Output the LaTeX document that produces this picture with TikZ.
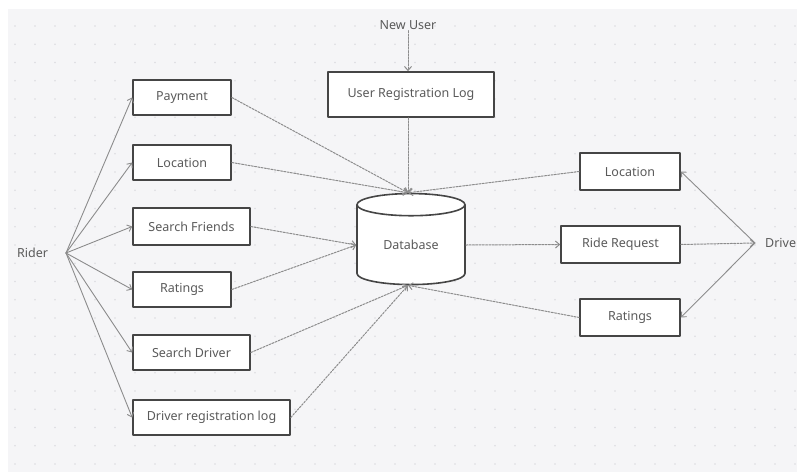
\documentclass[tikz,border=0pt]{standalone}
\usepackage{fontspec}
\setmainfont{Noto Sans}
\usetikzlibrary{arrows.meta,shapes.geometric}
\definecolor{panel}{HTML}{F5F5F7}
\definecolor{griddot}{HTML}{DCDCE0}
\definecolor{boxline}{HTML}{454545}
\definecolor{txt}{HTML}{5A5A5A}
\definecolor{flow}{HTML}{8C8C8C}
\begin{document}
\begin{tikzpicture}[x=1pt, y=-1pt, line cap=round, line join=round, font=\fontsize{12.5}{14}\selectfont, >={Straight Barb[length=4pt,width=7pt]}]
	\tikzset{box/.style={draw=boxline, line width=1.6pt, fill=white, text=txt, inner sep=0pt},
		link/.style={->, draw=flow, line width=1pt, dash pattern=on 2pt off 1.3pt},
		feed/.style={->, draw=flow, line width=0.9pt},
		label style/.style={text=txt, inner sep=1pt}}
	\useasboundingbox (0,0) rectangle (797,472);
	\fill[white] (0,0) rectangle (797,472);
	\fill[panel] (8,9) rectangle (797,472);
	\foreach \i in {0,...,39} \foreach \j in {0,...,24}
		\fill[griddot] (15+20*\i, 26+18.25*\j) circle (0.9pt);
	% boxes
	\node[box, minimum width=166pt, minimum height=45pt] (userlog) at (411,94.5) {User Registration Log};
	\node[box, minimum width=98pt, minimum height=35pt] (payment) at (182,97.5) {Payment};
	\node[box, minimum width=98pt, minimum height=35pt] (locL) at (182,162.5) {Location};
	\node[box, minimum width=117pt, minimum height=37pt] (friends) at (191.5,226.5) {Search Friends};
	\node[box, minimum width=98pt, minimum height=35pt] (rateL) at (182,289.5) {Ratings};
	\node[box, minimum width=117pt, minimum height=35pt] (sdriver) at (191.5,352.5) {Search Driver};
	\node[box, minimum width=157pt, minimum height=35pt] (dreg) at (211.5,417.5) {Driver registration log};
	\node[box, minimum width=100pt, minimum height=37pt] (locR) at (630,171.5) {Location};
	\node[box, minimum width=119pt, minimum height=37pt] (ride) at (620.5,244.5) {Ride Request};
	\node[box, minimum width=100pt, minimum height=37pt] (rateR) at (630,317.5) {Ratings};
	\node[box, cylinder, shape border rotate=90, aspect=0.4, minimum width=108pt, minimum height=91pt] (db) at (411,245) {Database};
	% end points
	\node[label style] (newuser) at (408,25) {New User};
	\node[label style, anchor=west] (rider) at (16,253) {Rider};
	\node[label style, anchor=west] (driver) at (764,243) {Driver};
	\coordinate (riderpt) at (66,253);
	\coordinate (driverpt) at (755,243);
	% rider side
	\foreach \n in {payment,locL,friends,rateL,sdriver,dreg}
		\draw[feed] (riderpt) -- (\n.west);
	% into the database
	\draw[link] (newuser) -- (userlog.north -| newuser);
	\draw[link] (userlog.south -| newuser) -- (db.north -| newuser);
	\foreach \n in {payment,locL}
		\draw[link] (\n.east) -- (db.north -| newuser);
	\draw[link] (locR.west) -- (db.north -| newuser);
	\foreach \n in {friends,rateL}
		\draw[link] (\n.east) -- (db.west);
	\foreach \n in {sdriver,dreg}
		\draw[link] (\n.east) -- (db.south -| newuser);
	\draw[link] (rateR.west) -- (db.south -| newuser);
	% driver side
	\draw[link] (db.east) -- (ride.west);
	\draw[link] (ride.east) -- (driverpt);
	\draw[feed] (driverpt) -- (locR.east);
	\draw[feed] (driverpt) -- (rateR.east);
\end{tikzpicture}
\end{document}
